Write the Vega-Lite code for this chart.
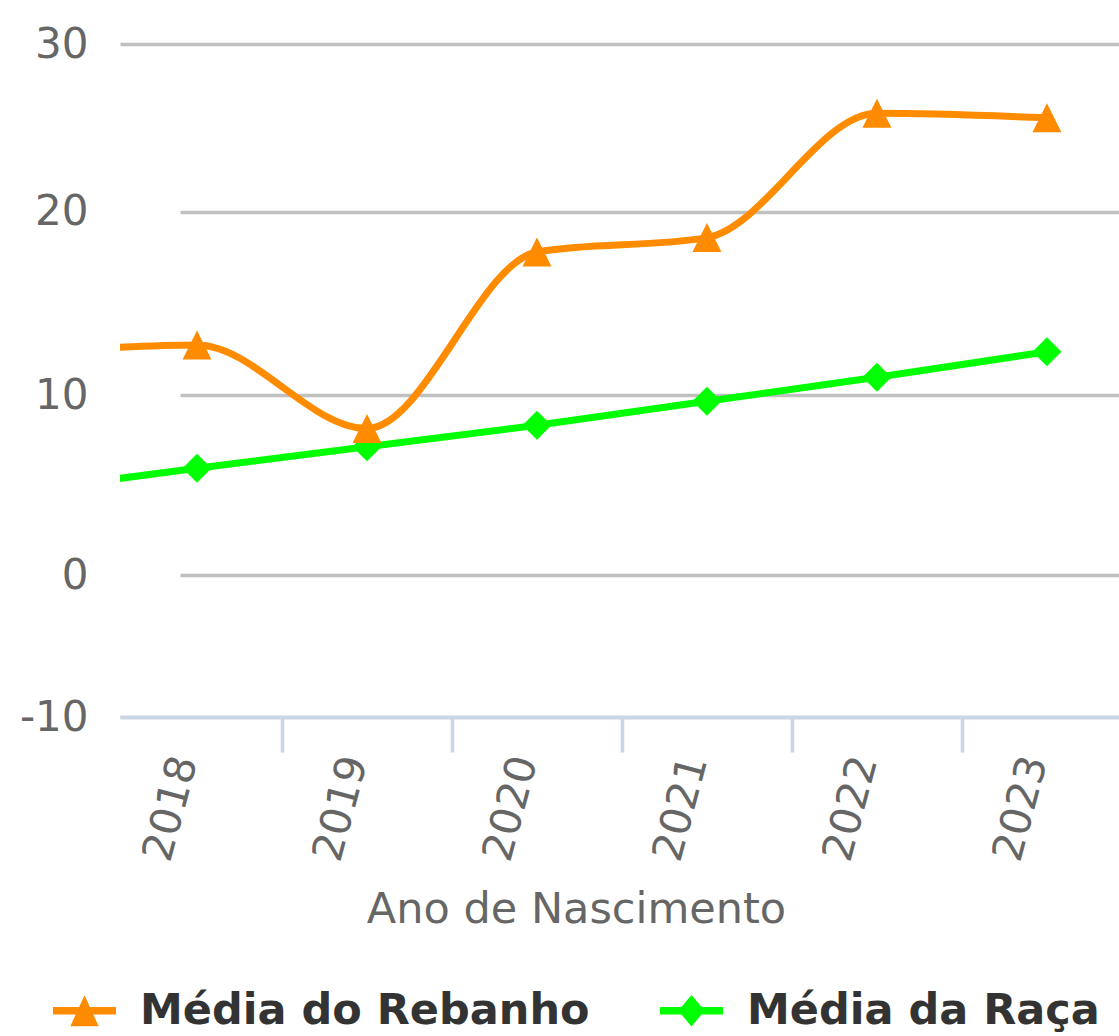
{
  "$schema": "https://vega.github.io/schema/vega-lite/v6.json",
  "width": 999,
  "height": 673,
  "autosize": {"type": "none"},
  "padding": {"left": 120, "top": 44, "right": 0, "bottom": 319},
  "background": "white",
  "usermeta": {"embedOptions": {"actions": false}},
  "config": {"view": {"stroke": null}, "font": "DejaVu Sans"},
  "data": {
    "values": [
      {"ano": 2017, "serie": "Média do Rebanho", "valor": 12.3},
      {"ano": 2018, "serie": "Média do Rebanho", "valor": 12.74},
      {"ano": 2019, "serie": "Média do Rebanho", "valor": 8.15},
      {"ano": 2020, "serie": "Média do Rebanho", "valor": 17.8},
      {"ano": 2021, "serie": "Média do Rebanho", "valor": 18.58},
      {"ano": 2022, "serie": "Média do Rebanho", "valor": 25.86},
      {"ano": 2023, "serie": "Média do Rebanho", "valor": 25.59},
      {"ano": 2017, "serie": "Média da Raça", "valor": 4.7},
      {"ano": 2018, "serie": "Média da Raça", "valor": 5.94},
      {"ano": 2019, "serie": "Média da Raça", "valor": 7.14},
      {"ano": 2020, "serie": "Média da Raça", "valor": 8.33},
      {"ano": 2021, "serie": "Média da Raça", "valor": 9.67},
      {"ano": 2022, "serie": "Média da Raça", "valor": 10.98},
      {"ano": 2023, "serie": "Média da Raça", "valor": 12.37}
    ]
  },
  "encoding": {
    "x": {
      "field": "ano",
      "type": "quantitative",
      "scale": {"domain": [2017.547, 2023.424], "nice": false, "zero": false},
      "axis": {
        "title": "Ano de Nascimento",
        "values": [2018, 2018.5, 2019, 2019.5, 2020, 2020.5, 2021, 2021.5, 2022, 2022.5, 2023],
        "grid": false,
        "domainColor": "#c8d6e8",
        "domainWidth": 3.6,
        "tickColor": "#c8d6e8",
        "tickWidth": 3.6,
        "tickSize": 35,
        "tickOpacity": {"condition": {"test": "datum.value % 1 === 0", "value": 0}, "value": 1},
        "labelExpr": "datum.value % 1 === 0 ? '' + datum.value : ''",
        "labelAngle": -75,
        "labelAlign": "right",
        "labelBaseline": "alphabetic",
        "labelPadding": 8,
        "labelFontSize": 42,
        "labelColor": "#666666",
        "labelFont": "DejaVu Sans",
        "labelOverlap": false,
        "labelFlush": false,
        "titleFontSize": 43,
        "titleFontWeight": "normal",
        "titleColor": "#666666",
        "titleFont": "DejaVu Sans",
        "titleX": 456,
        "titleY": 205,
        "titleAlign": "center",
        "titleBaseline": "alphabetic"
      }
    },
    "y": {
      "field": "valor",
      "type": "quantitative",
      "scale": {"domain": [-10, 0, 10, 20, 30], "range": [673, 531, 351.3, 167.5, 0], "nice": false, "zero": false},
      "axis": {
        "title": null,
        "values": [-10, 0, 10, 20, 30],
        "grid": true,
        "gridColor": "#c0c0c0",
        "gridWidth": 3.6,
        "gridDash": {"condition": {"test": "datum.value === 30 || datum.value === -10", "value": []}, "value": [0, 60, 3000]},
        "domain": false,
        "ticks": false,
        "labelPadding": 32,
        "labelFontSize": 42,
        "labelColor": "#666666",
        "labelFont": "DejaVu Sans",
        "labelBaseline": "middle",
        "labelExpr": "'' + datum.value"
      }
    }
  },
  "layer": [
    {
      "transform": [{"filter": "datum.ano === 2017"}],
      "mark": {"type": "point", "filled": true, "size": 3969, "opacity": 1, "clip": true},
      "encoding": {
        "color": {
          "field": "serie", "type": "nominal",
          "scale": {"domain": ["Média do Rebanho", "Média da Raça"], "range": ["#ff8c00", "#00ff00"]},
          "legend": {"title": null, "orient": "none", "direction": "horizontal", "legendX": -67, "legendY": 935, "labelFont": "DejaVu Sans", "labelFontSize": 43, "labelFontWeight": "bold", "labelColor": "#333333", "labelLimit": 2000, "labelOffset": 24, "columnPadding": 70, "symbolSize": 3969, "symbolStrokeWidth": 0, "symbolOpacity": 1, "padding": 0, "rowPadding": 0}
        },
        "shape": {
          "field": "serie", "type": "nominal",
          "scale": {"domain": ["Média do Rebanho", "Média da Raça"], "range": ["M-1,-0.12H1V0.12H-1Z M0,-0.49L0.45,0.49L-0.45,0.49Z", "M-1,-0.12H1V0.12H-1Z M0,-0.5L0.42,0L0,0.5L-0.42,0Z"]},
          "legend": {"title": null, "orient": "none", "direction": "horizontal", "legendX": -67, "legendY": 935, "labelFont": "DejaVu Sans", "labelFontSize": 43, "labelFontWeight": "bold", "labelColor": "#333333", "labelLimit": 2000, "labelOffset": 24, "columnPadding": 70, "symbolSize": 3969, "symbolStrokeWidth": 0, "symbolOpacity": 1, "padding": 0, "rowPadding": 0}
        }
      }
    },
    {
      "transform": [{"filter": "datum.serie === 'Média da Raça'"}],
      "mark": {"type": "line", "strokeWidth": 7, "clip": true, "interpolate": "linear"},
      "encoding": {
        "color": {"field": "serie", "type": "nominal", "scale": {"domain": ["Média do Rebanho", "Média da Raça"], "range": ["#ff8c00", "#00ff00"]}, "legend": null}
      }
    },
    {
      "transform": [{"filter": "datum.serie === 'Média do Rebanho'"}],
      "mark": {"type": "line", "strokeWidth": 7, "clip": true, "interpolate": "monotone"},
      "encoding": {
        "color": {"field": "serie", "type": "nominal", "scale": {"domain": ["Média do Rebanho", "Média da Raça"], "range": ["#ff8c00", "#00ff00"]}, "legend": null}
      }
    },
    {
      "transform": [{"filter": "datum.serie === 'Média da Raça' && datum.ano >= 2018"}],
      "mark": {"type": "point", "shape": "diamond", "filled": true, "size": 841, "opacity": 1},
      "encoding": {
        "color": {"field": "serie", "type": "nominal", "scale": {"domain": ["Média do Rebanho", "Média da Raça"], "range": ["#ff8c00", "#00ff00"]}, "legend": null}
      }
    },
    {
      "transform": [{"filter": "datum.serie === 'Média do Rebanho' && datum.ano >= 2018"}],
      "mark": {"type": "point", "shape": "M0,-1L1,1L-1,1Z", "filled": true, "size": 841, "opacity": 1},
      "encoding": {
        "color": {"field": "serie", "type": "nominal", "scale": {"domain": ["Média do Rebanho", "Média da Raça"], "range": ["#ff8c00", "#00ff00"]}, "legend": null}
      }
    }
  ]
}
